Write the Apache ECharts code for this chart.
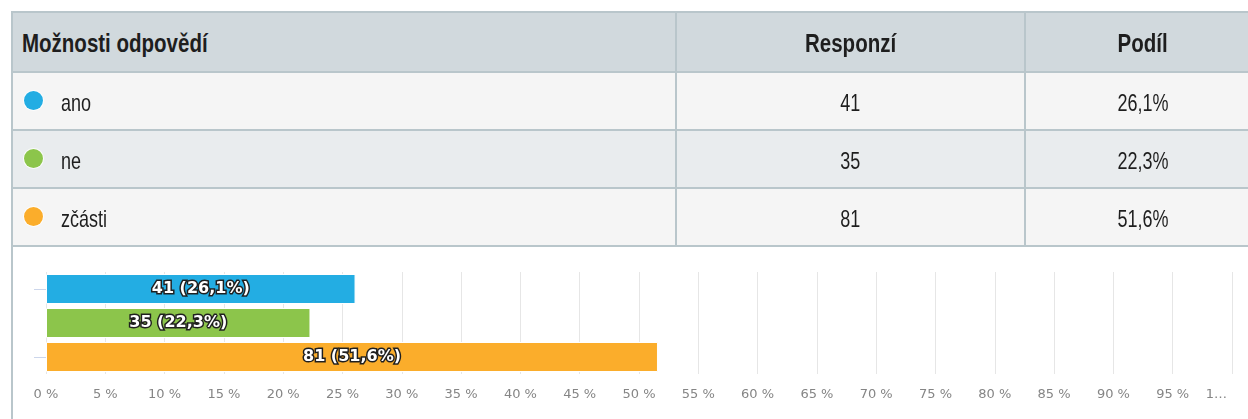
<!DOCTYPE html>
<html>
<head>
<meta charset="utf-8">
<script src="https://cdn.jsdelivr.net/npm/echarts@6/dist/echarts.min.js"></script>
<style>
  html, body { margin: 0; padding: 0; background: #ffffff; }
  #wrap { position: relative; width: 1248px; height: 419px; overflow: hidden; }
  #chart { position: absolute; left: 0; top: 0; width: 1248px; height: 419px; }
  #table { position: absolute; left: 0; top: 0; width: 1248px; height: 419px; pointer-events: none; }
  .cell { position: absolute; box-sizing: border-box; display: flex; align-items: center;
          font-family: "Liberation Sans", Arial, sans-serif; color: #1e1e1e; }
  .txt { display: inline-block; white-space: nowrap; }
  .line { position: absolute; background: #b9c6cb; }
  .dot { position: absolute; width: 19px; height: 19px; border-radius: 50%; }
</style>
</head>
<body>
<div id="wrap">
  <div id="chart"></div>
  <div id="table"></div>
</div>
<script>
// ---- data ----
const headers = ["Možnosti odpovědí", "Responzí", "Podíl"];
const categories = ["ano", "ne", "zčásti"];
const counts = [41, 35, 81];
const shares = [26.1, 22.3, 51.6];
const colors = ["#23ade3", "#8cc54b", "#fbad2b"];
const tickValues = [0, 5, 10, 15, 20, 25, 30, 35, 40, 45, 50, 55, 60, 65, 70, 75, 80, 85, 90, 95, 100];

function fmtShare(v) { return v.toFixed(1).replace('.', ','); }

// ---- table (HTML) ----
const t = document.getElementById('table');
const colX = [13, 677, 1026];      // content left edges
const colW = [662, 347, 234];
const rowY = [13, 73, 131, 189];   // content top edges
const rowH = [58, 56, 56, 56];
const rowBg = ["#d1d9dd", "#f5f5f5", "#e9ecee", "#f5f5f5"];

function addLine(x, y, w, h) {
  const d = document.createElement('div');
  d.className = 'line';
  d.style.left = x + 'px'; d.style.top = y + 'px';
  d.style.width = w + 'px'; d.style.height = h + 'px';
  t.appendChild(d);
}
function addCell(r, c, text, opts, center, scale) {
  const d = document.createElement('div');
  d.className = 'cell';
  d.style.left = colX[c] + 'px'; d.style.top = rowY[r] + 'px';
  d.style.width = colW[c] + 'px'; d.style.height = rowH[r] + 'px';
  d.style.background = rowBg[r];
  if (center) d.style.justifyContent = 'center';
  Object.assign(d.style, opts || {});
  const s = document.createElement('span');
  s.className = 'txt';
  s.textContent = text;
  s.style.transform = 'scaleX(' + scale + ')';
  s.style.transformOrigin = center ? 'center' : 'left center';
  d.appendChild(s);
  t.appendChild(d);
  return d;
}
// header
addCell(0, 0, headers[0], { fontWeight: 'bold', fontSize: '25px', paddingLeft: '9px', paddingTop: '2px' }, false, 0.82);
addCell(0, 1, headers[1], { fontWeight: 'bold', fontSize: '25px', paddingTop: '2px' }, true, 0.82);
addCell(0, 2, headers[2], { fontWeight: 'bold', fontSize: '25px', paddingTop: '2px' }, true, 0.82);
// rows
categories.forEach((cat, i) => {
  const r = i + 1;
  const c0 = addCell(r, 0, cat, { fontSize: '24px', paddingLeft: '48px', paddingTop: '4px' }, false, 0.75);
  const dot = document.createElement('div');
  dot.className = 'dot';
  dot.style.left = '11px'; dot.style.top = (rowH[r] / 2 - 10) + 'px';
  dot.style.background = colors[i];
  dot.style.boxShadow = '0 0 0 1px rgba(255,255,255,0.8)';
  c0.appendChild(dot);
  addCell(r, 1, String(counts[i]), { fontSize: '24px', paddingTop: '4px' }, true, 0.75);
  addCell(r, 2, fmtShare(shares[i]) + '%', { fontSize: '24px', paddingTop: '4px' }, true, 0.75);
});
// borders
[11, 71, 129, 187, 245].forEach(y => addLine(11, y, 1260, 2));
addLine(11, 11, 2, 408);      // left border continues down
addLine(675, 11, 2, 236);
addLine(1024, 11, 2, 236);

// ---- chart ----
const chart = echarts.init(document.getElementById('chart'), null, { renderer: 'canvas' });
chart.setOption({
  animation: false,
  grid: { left: 46, top: 272, width: 1186, height: 102, containLabel: false },
  xAxis: {
    type: 'value',
    min: tickValues[0],
    max: tickValues[tickValues.length - 1],
    interval: 5,
    axisLine: { show: false },
    axisTick: { show: false },
    splitLine: { show: true, lineStyle: { color: '#e6e6e6', width: 1 } },
    axisLabel: {
      color: '#858585',
      fontFamily: 'DejaVu Sans',
      fontSize: 13,
      margin: 14,
      alignMaxLabel: 'right',
      formatter: v => (v === 100 ? '{end|1…}' : v + ' %'),
      rich: { end: { color: '#858585', fontFamily: 'DejaVu Sans', fontSize: 13, padding: [0, 5, 0, 0] } }
    }
  },
  yAxis: {
    type: 'category',
    inverse: true,
    data: categories,
    axisLine: { show: false },
    axisLabel: { show: false },
    splitLine: { show: false },
    axisTick: {
      show: true,
      alignWithLabel: true,
      length: 12,
      interval: (idx) => idx !== 1,
      lineStyle: { color: '#ccd6eb', width: 1 }
    }
  },
  series: [{
    type: 'bar',
    barWidth: 30,
    data: shares.map((s, i) => ({
      value: s,
      itemStyle: { color: colors[i], borderColor: '#ffffff', borderWidth: 1 }
    })),
    label: {
      show: true,
      position: 'inside',
      color: '#ffffff',
      fontFamily: 'DejaVu Sans',
      fontWeight: 'bold',
      fontSize: 16,
      textBorderColor: '#1f1f1f',
      textBorderWidth: 3,
      formatter: p => counts[p.dataIndex] + ' (' + fmtShare(shares[p.dataIndex]) + '%)'
    }
  }]
});
</script>
</body>
</html>
